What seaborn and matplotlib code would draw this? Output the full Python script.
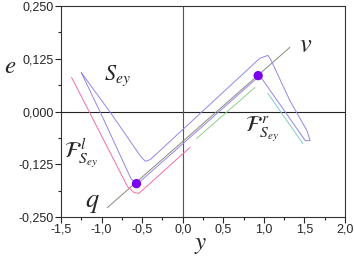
import matplotlib
matplotlib.use("Agg")
import matplotlib.pyplot as plt
import numpy as np
import pandas as pd
import seaborn as sns

# Петля S_ey (замкнутая), координаты (y, e)
loop_y = [-1.25, -0.90, -0.52, -0.46, -0.40, 0.95, 1.05, 1.09, 1.32, 1.53, 1.57, 1.51, 0.95,
          -0.52, -0.58, -0.64, -1.02, -1.25]
loop_e = [0.092, 0.000, -0.106, -0.118, -0.114, 0.126, 0.133, 0.121, 0.026, -0.045, -0.069,
          -0.069, 0.085, -0.165, -0.170, -0.158, 0.000, 0.092]

# Левая граница F^l
pink_y = [-1.37, -0.68, -0.60, -0.54, 0.09]
pink_e = [0.081, -0.178, -0.192, -0.194, -0.085]

# Правые отрезки F^r
green_y = [0.17, 0.89]
green_e = [-0.064, 0.057]
cyan_y = [1.05, 1.48]
cyan_e = [0.043, -0.076]

# Прямая q-v
qv_y = [-0.93, 1.32]
qv_e = [-0.228, 0.152]

# Точки q и v
dot_y = [-0.57, 0.93]
dot_e = [-0.171, 0.085]

x_ticks = [-1.5, -1.0, -0.5, 0.0, 0.5, 1.0, 1.5, 2.0]
y_ticks = [-0.250, -0.125, 0.0, 0.125, 0.250]

sns.set_style("white")
plt.rcParams["font.family"] = ["Liberation Sans", "DejaVu Sans"]
plt.rcParams["mathtext.fontset"] = "stix"

fig = plt.figure(figsize=(3.54, 2.60), dpi=100)
ax = fig.add_axes([61 / 354, 1 - 217 / 260, 284 / 354, 211 / 260])

ax.axhline(0, color="#222222", lw=0.8, zorder=1)
ax.axvline(0, color="#555555", lw=0.8, zorder=1)


def curve(xs, ys, color):
    # estimator=None: без усреднения по повторяющимся x
    sns.lineplot(x=xs, y=ys, sort=False, estimator=None, color=color, lw=0.7, ax=ax)


curve(qv_y, qv_e, "#8a8a7a")
curve(pink_y, pink_e, "#ef6fa8")
curve(green_y, green_e, "#8fd08f")
curve(cyan_y, cyan_e, "#80cccc")
curve(loop_y, loop_e, "#9486e6")
sns.scatterplot(x=dot_y, y=dot_e, color="#7a00ee", s=45, edgecolor="none", zorder=5, ax=ax)

ax.set_xlim(-1.5, 2.0)
ax.set_ylim(-0.25, 0.25)
ax.set_xticks(x_ticks)
ax.set_xticklabels([f"{v:.1f}".replace(".", ",") for v in x_ticks])
ax.set_yticks(y_ticks)
ax.set_yticklabels([f"{v:.3f}".replace(".", ",") for v in y_ticks])
ax.set_xticks(np.arange(-1.25, 2.0, 0.5), minor=True)
ax.set_yticks([-0.1875, -0.0625, 0.0625, 0.1875], minor=True)
ax.tick_params(which="major", direction="out", length=4, width=0.8, labelsize=9,
               bottom=True, left=True, pad=1)
ax.tick_params(which="minor", direction="out", length=2.5, width=0.8,
               bottom=True, left=True)
for s in ax.spines.values():
    s.set_color("#333333")
    s.set_linewidth(0.8)

txt = dict(fontsize=16, ha="center", va="center")
ax.text(-0.80, 0.085, r"$S_{ey}$", **txt)
ax.text(-1.25, -0.097, r"$\mathcal{F}^{\,l}_{S_{ey}}$", **txt)
ax.text(0.98, -0.040, r"$\mathcal{F}^{\,r}_{S_{ey}}$", **txt)
ax.text(-1.11, -0.216, r"$q$", fontsize=19, ha="center", va="center")
ax.text(1.51, 0.158, r"$v$", fontsize=19, ha="center", va="center")

fig.text(10 / 354, 1 - 66 / 260, r"$e$", fontsize=18, ha="center", va="center")
fig.text(201 / 354, 1 - 244 / 260, r"$y$", fontsize=18, ha="center", va="center")

fig.savefig("out.png", dpi=100)
